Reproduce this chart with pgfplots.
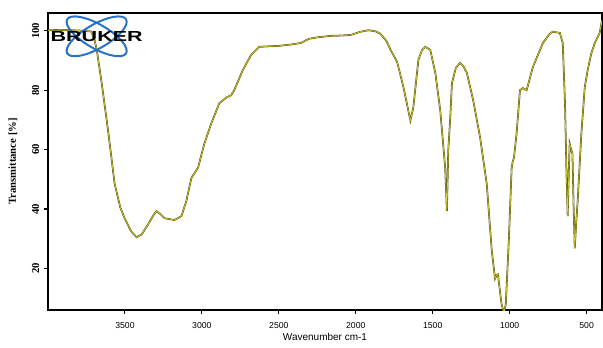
\documentclass[border=0pt]{standalone}
\usepackage{fontspec}
\setmainfont{Liberation Sans}
\newfontfamily\seriffont{Liberation Serif}
\usepackage{graphicx}
\usepackage{pgfplots}
\pgfplotsset{compat=1.18}
\definecolor{specdark}{RGB}{95,90,10}
\definecolor{specyellow}{RGB}{215,210,60}
\definecolor{brukerblue}{RGB}{40,115,200}
\pgfplotstableread{
wn T
4000 100.2
3900 100.3
3800 100.1
3720 99.8
3700 97.5
3683 93.6
3651 82.4
3607 65.4
3567 48.5
3530 40.5
3502 36.9
3460 32.5
3424 30.5
3390 31.5
3349 34.9
3310 38.3
3295 39.3
3270 38.3
3243 36.9
3178 36.3
3133 37.6
3101 42.7
3068 50.5
3025 53.9
2984 62.0
2939 68.8
2887 75.6
2840 77.6
2810 78.3
2790 80.0
2734 86.8
2680 91.9
2628 94.6
2560 94.8
2505 94.9
2420 95.4
2357 95.9
2305 97.3
2250 97.8
2163 98.3
2100 98.4
2033 98.6
1969 99.7
1917 100.2
1870 99.8
1840 99.0
1800 96.5
1774 93.6
1731 89.5
1690 81.0
1660 73.5
1645 69.8
1626 74.2
1610 82.0
1593 90.2
1570 93.5
1548 94.6
1516 93.6
1483 85.8
1451 73.2
1419 53.9
1412 45.0
1408 39.3
1404 48.0
1399 59.7
1386 70.8
1375 82.4
1350 87.5
1322 89.2
1300 88.0
1278 85.8
1237 76.6
1192 64.1
1149 48.5
1116 25.8
1095 16.6
1085 17.8
1076 18.0
1060 11.0
1052 7.8
1037 5.0
1025 8.0
1019 14.6
1005 30.0
987 53.9
980 56.0
972 57.3
955 65.4
933 80.0
914 80.7
890 80.0
849 87.8
784 95.9
740 99.0
720 99.7
674 99.3
655 95.9
640 75.0
631 52.9
623 37.6
616 52.0
610 62.0
600 60.0
592 58.6
584 40.0
577 26.8
568 35.0
558 42.7
534 65.4
512 81.0
493 86.8
469 92.5
447 95.9
415 99.3
400 103.5
}\spectrum
\begin{document}
\begin{tikzpicture}
\begin{axis}[
  name=ax,
  scale only axis,
  width=415.5pt, height=222.75pt,
  x dir=reverse,
  xmin=400, xmax=4000,
  ymin=6, ymax=106,
  xtick={500,1000,...,3500},
  ytick={20,40,...,100},
  tick pos=left,
  tick align=outside,
  major tick length=3pt,
  axis line style={line width=0.9pt},
  every tick/.style={black, line width=0.8pt},
  /pgf/number format/assume math mode=true,
  /pgf/number format/1000 sep={},
  xticklabel style={font=\fontsize{6.5}{7}\selectfont, yshift=-2.5pt},
  yticklabel style={font=\seriffont\bfseries\fontsize{8}{8}\selectfont, rotate=90, anchor=south},
  xlabel={Wavenumber cm-1},
  ylabel={Transmittance [\%]},
  xlabel style={font=\fontsize{7.5}{8}\selectfont, at={(axis description cs:0.5,-0.0898)}, anchor=center},
  ylabel style={font=\seriffont\bfseries\fontsize{8}{8}\selectfont, at={(axis description cs:-0.0632,0.5)}, anchor=center},
]
\addplot[specdark, line width=1.3pt] table[x=wn, y=T] {\spectrum};
\addplot[specyellow, line width=0.45pt] table[x=wn, y=T] {\spectrum};
\end{axis}
% Bruker logo
\begin{scope}[shift={([xshift=36.5pt,yshift=-17.5pt]ax.north west)}]
  \draw[brukerblue, line width=1.5pt, rotate=30] (0,0) ellipse (25.5pt and 9pt);
  \draw[brukerblue, line width=1.5pt, rotate=-30] (0,0) ellipse (25.5pt and 9pt);
  \node[inner sep=0pt] at (0,-0.5pt) {\resizebox{69pt}{7.5pt}{\bfseries BRUKER}};
\end{scope}
\pgfresetboundingbox
\path[use as bounding box] ([xshift=-36pt,yshift=-27.75pt]ax.south west) rectangle ([xshift=0.75pt,yshift=9.75pt]ax.north east);
\end{tikzpicture}
\end{document}
